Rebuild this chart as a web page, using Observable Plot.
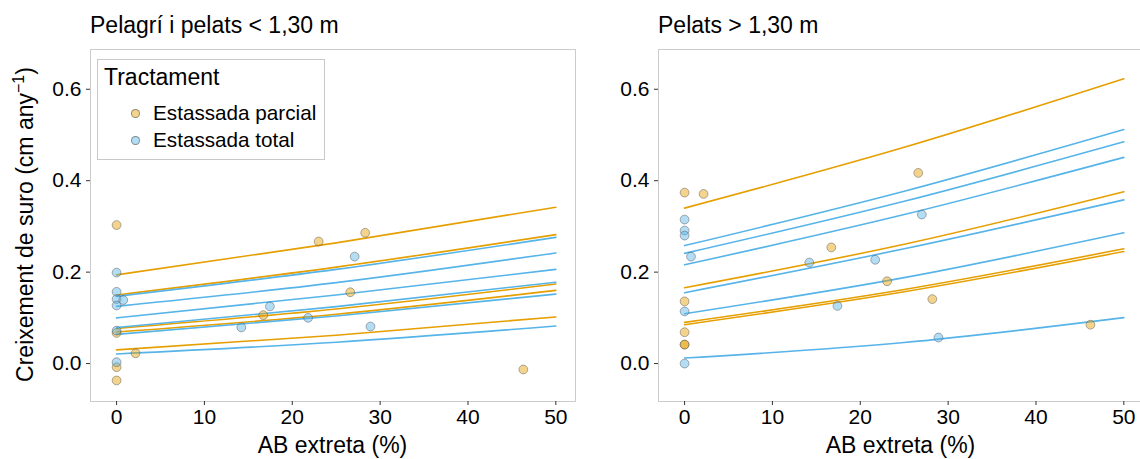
<!DOCTYPE html>
<html>
<head>
<meta charset="utf-8">
<script src="https://cdn.jsdelivr.net/npm/d3@7"></script>
<script src="https://cdn.jsdelivr.net/npm/@observablehq/plot@0.6"></script>
<style>
  html, body { margin: 0; padding: 0; background: #fff; overflow: hidden; }
  #chart { position: relative; width: 1140px; height: 459px; overflow: hidden;
           font-family: "Liberation Sans", Arial, sans-serif; color: #000; }
  .abs { position: absolute; white-space: nowrap; line-height: 1; }
  .title { font-size: 23px; }
  .axis-title { font-size: 23px; }
  .legend { position: absolute; left: 97px; top: 59px; width: 228px; height: 101px;
            box-sizing: border-box; border: 1px solid #c9c9c9; background: #fff; }
  .key { position: absolute; width: 9px; height: 9px; box-sizing: border-box;
         border-radius: 50%; border: 1px solid rgba(85,85,85,0.6); }
  .plot { position: absolute; top: 40px; }
</style>
</head>
<body>
<div id="chart"></div>
<script>
// Treatments and their colours
const treatments = ["Estassada parcial", "Estassada total"];
const colors = ["#E69F00", "#56B4E9"];

// Axis ticks
const xTicks = [0, 10, 20, 30, 40, 50];
const yTicks = [0, 0.2, 0.4, 0.6];

// Fitted curves: predicted growth at AB extreta = 0, 25 and 50 %
const curveX = [0, 25, 50];

// "Pelagrí i pelats < 1,30 m"
const lowParcialCurves = [
  [0.194, 0.264, 0.342],
  [0.150, 0.211, 0.282],
  [0.077, 0.1195, 0.174],
  [0.069, 0.108, 0.160],
  [0.030, 0.062, 0.102]
];
const lowTotalCurves = [
  [0.147, 0.206, 0.276],
  [0.125, 0.177, 0.242],
  [0.100, 0.150, 0.206],
  [0.079, 0.1245, 0.178],
  [0.064, 0.104, 0.152],
  [0.021, 0.0466, 0.082]
];
const lowParcialPts = [
  [0, 0.303], [0, 0.067], [0, -0.008], [0, -0.037], [2.16, 0.0225],
  [16.7, 0.106], [23.0, 0.267], [26.6, 0.156], [28.3, 0.286], [46.3, -0.013]
];
const lowTotalPts = [
  [0, 0.199], [0, 0.157], [0, 0.141], [0.76, 0.139], [0, 0.127], [0, 0.072],
  [0, 0.003], [14.2, 0.079], [17.45, 0.125], [21.8, 0.100], [27.1, 0.234], [28.9, 0.081]
];

// "Pelats > 1,30 m"
const highParcialCurves = [
  [0.340, 0.473, 0.623],
  [0.166, 0.261, 0.376],
  [0.090, 0.162, 0.251],
  [0.085, 0.157, 0.245]
];
const highTotalCurves = [
  [0.258, 0.377, 0.512],
  [0.241, 0.355, 0.485],
  [0.216, 0.326, 0.451],
  [0.155, 0.251, 0.358],
  [0.109, 0.188, 0.286],
  [0.012, 0.046, 0.1005]
];
const highParcialPts = [
  [0, 0.374], [2.16, 0.371], [0, 0.136], [0, 0.0685], [0, 0.0415], [0, 0.0415],
  [16.7, 0.254], [23.05, 0.180], [26.6, 0.417], [28.2, 0.141], [46.2, 0.085]
];
const highTotalPts = [
  [0, 0.315], [0, 0.291], [0, 0.280], [0.73, 0.234], [0, 0.114], [0, 0.0],
  [14.2, 0.221], [17.4, 0.126], [21.7, 0.227], [27.0, 0.326], [28.9, 0.057]
];

const xDomain = [-2.97, 52.24];
const yDomain = [-0.083, 0.687];

function curveRows(curves, group, tag) {
  const rows = [];
  curves.forEach((c, i) => c.forEach((v, j) =>
    rows.push({x: curveX[j], y: v, id: tag + i, t: group})));
  return rows;
}
function pointRows(pts, group) {
  return pts.map(([x, y]) => ({x, y, t: group}));
}

function panel(parcialCurves, totalCurves, parcialPts, totalPts, width, marginLeft, marginRight) {
  const lines = curveRows(parcialCurves, treatments[0], "p")
    .concat(curveRows(totalCurves, treatments[1], "t"));
  const dots = pointRows(parcialPts, treatments[0])
    .concat(pointRows(totalPts, treatments[1]));
  return Plot.plot({
    width, height: 419,
    marginLeft, marginRight, marginTop: 9, marginBottom: 58,
    x: {domain: xDomain},
    y: {domain: yDomain},
    color: {domain: treatments, range: colors},
    style: {fontFamily: '"Liberation Sans", Arial, sans-serif', fontSize: "21px", color: "#000", background: "transparent", overflow: "visible"},
    marks: [
      Plot.line(lines, {x: "x", y: "y", z: "id", stroke: "t", strokeWidth: 1.6, curve: "natural"}),
      Plot.dot(dots, {x: "x", y: "y", fill: "t", fillOpacity: 0.45, stroke: "#555", strokeOpacity: 0.6, strokeWidth: 0.8, r: 4.4}),
      Plot.frame({stroke: "#cccccc", strokeWidth: 1}),
      Plot.axisX({ticks: xTicks, tickSize: 4, tickPadding: 4, stroke: "#333", fill: "#000", fontSize: 21, label: null}),
      Plot.axisY({ticks: yTicks, tickSize: 4, tickPadding: 5, tickFormat: d3.format(".1f"), stroke: "#333", fill: "#000", fontSize: 21, label: null})
    ]
  });
}

const chart = document.getElementById("chart");
function place(html, cls, left, top, extra) {
  const d = document.createElement("div");
  d.className = "abs " + cls;
  d.innerHTML = html;
  d.style.left = left + "px";
  d.style.top = top + "px";
  if (extra) Object.assign(d.style, extra);
  chart.appendChild(d);
  return d;
}

// Two panels side by side
const left = panel(lowParcialCurves, lowTotalCurves, lowParcialPts, lowTotalPts, 580, 90, 5);
left.classList.add("plot");
left.style.left = "0px";
chart.appendChild(left);

const right = panel(highParcialCurves, highTotalCurves, highParcialPts, highTotalPts, 580, 78, 17);
right.classList.add("plot");
right.style.left = "580px";
chart.appendChild(right);

// Panel titles
place("Pelagrí i pelats &lt; 1,30 m", "title", 90, 13.8);
place("Pelats &gt; 1,30 m", "title", 658, 13.8);

// X axis titles
place("AB extreta (%)", "axis-title", 332.5, 434, {transform: "translateX(-50%)"});
place("AB extreta (%)", "axis-title", 900.5, 434, {transform: "translateX(-50%)"});

// Y axis title (rotated)
place('Creixement de suro (cm any<span style="font-size:16px;position:relative;top:-9px">−1</span>)',
  "axis-title", 24.5 - 200, 224 - 11.5,
  {width: "400px", height: "23px", textAlign: "center", transform: "rotate(-90deg)"});

// Legend
const legend = document.createElement("div");
legend.className = "legend";
chart.appendChild(legend);
place("Tractament", "title", 104, 65.5);
const keyTops = [113.3, 140];
const labelTops = [102.5, 130.2];
treatments.forEach((t, i) => {
  const k = document.createElement("div");
  k.className = "key";
  k.style.left = (135 - 4.5) + "px";
  k.style.top = (keyTops[i] - 4.5) + "px";
  k.style.background = d3.color(colors[i]).copy({opacity: 0.45}).formatRgb();
  chart.appendChild(k);
  place(t, "", 153, labelTops[i], {fontSize: "20.7px"});
});
</script>
</body>
</html>
